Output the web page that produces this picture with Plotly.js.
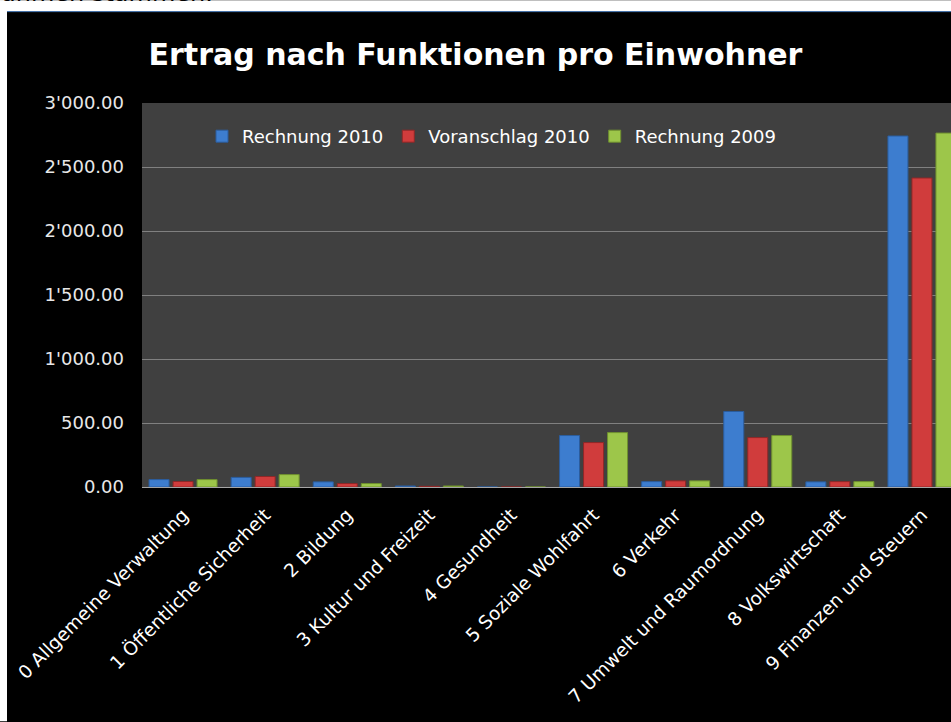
<!DOCTYPE html>
<html>
<head>
<meta charset="utf-8">
<script src="https://cdn.plot.ly/plotly-3.0.1.min.js"></script>
<style>
  html, body { margin: 0; padding: 0; background: #ffffff; overflow: hidden; }
  #chart { width: 951px; height: 722px; }
</style>
</head>
<body>
<div id="chart"></div>
<script>
// ---- Data ----
const categories = [
  "0 Allgemeine Verwaltung",
  "1 Öffentliche Sicherheit",
  "2 Bildung",
  "3 Kultur und Freizeit",
  "4 Gesundheit",
  "5 Soziale Wohlfahrt",
  "6 Verkehr",
  "7 Umwelt und Raumordnung",
  "8 Volkswirtschaft",
  "9 Finanzen und Steuern"
];
const seriesNames = ["Rechnung 2010", "Voranschlag 2010", "Rechnung 2009"];
const rechnung2010   = [58, 75, 40, 8, 0, 402, 42, 590, 40, 2742];
const voranschlag2010 = [43, 82, 27, 5, 0, 347, 48, 386, 42, 2414];
const rechnung2009   = [58, 97, 27, 8, 0, 425, 48, 402, 42, 2765];
const yTicks = [0, 500, 1000, 1500, 2000, 2500, 3000];

// ---- Layout helpers (pixel -> paper) ----
const W = 951, H = 722;
const mL = 142, mR = 0, mT = 103, mB = 234.5;
const pw = W - mL - mR, ph = H - mT - mB;
const px = x => (x - mL) / pw;
const py = y => 1 - (y - mT) / ph;

const font = "DejaVu Sans, Verdana, sans-serif";
const colors = ["#3d7dcf", "#d03c3c", "#9dc64a"];
const edges  = ["#2b5d9e", "#8f2727", "#6f902f"];
const values = [rechnung2010, voranschlag2010, rechnung2009];

const traces = seriesNames.map((n, i) => ({
  type: "bar",
  name: n,
  x: categories,
  y: values[i],
  marker: { color: colors[i], line: { color: edges[i], width: 1 } },
  hoverinfo: "skip"
}));

const layout = {
  width: W, height: H,
  margin: { l: mL, r: mR, t: mT, b: mB, pad: 0 },
  paper_bgcolor: "#000000",
  plot_bgcolor: "#404040",
  separators: ".'",
  font: { family: font, color: "#ffffff", size: 18 },
  title: {
    text: "Ertrag nach Funktionen pro Einwohner",
    font: { family: font, size: 30, color: "#ffffff", weight: "bold" },
    xref: "container", x: 0.5, xanchor: "center",
    yref: "container", y: 1 - 54.5 / H, yanchor: "middle"
  },
  barmode: "group",
  bargap: 0.123,
  bargroupgap: 0.167,
  showlegend: true,
  legend: {
    orientation: "h",
    x: px(202), xanchor: "left",
    y: py(118), yanchor: "top",
    bgcolor: "rgba(0,0,0,0)",
    font: { family: font, size: 18, color: "#ffffff" }
  },
  xaxis: {
    type: "category",
    range: [-0.5, -0.5 + pw / 82.1],
    tickangle: -45,
    tickfont: { family: font, size: 18.5, color: "#ffffff" },
    showgrid: false,
    showline: true, linecolor: "#a6a6a6", linewidth: 1,
    ticks: "", automargin: false,
    ticklabelstandoff: 9
  },
  yaxis: {
    range: [0, 3000],
    tickvals: yTicks,
    tickformat: ",.2f",
    tickfont: { family: font, size: 18, color: "#e8e8e8" },
    showgrid: true, gridcolor: "#808080", gridwidth: 1,
    zeroline: false,
    ticks: "", automargin: false,
    ticklabelstandoff: 17
  },
  shapes: [
    // white document background around chart frame
    { type: "rect", xref: "paper", yref: "paper", layer: "below",
      x0: px(0), x1: px(W), y0: py(0), y1: py(11), line: { width: 0 }, fillcolor: "#ffffff" },
    { type: "rect", xref: "paper", yref: "paper", layer: "below",
      x0: px(0), x1: px(7), y0: py(0), y1: py(H), line: { width: 0 }, fillcolor: "#ffffff" },
    // thin blue frame line at top of chart object
    { type: "line", xref: "paper", yref: "paper", layer: "above",
      x0: px(7), x1: px(W), y0: py(11.5), y1: py(11.5), line: { color: "#4f81bd", width: 1 } }
  ],
  annotations: [
    { text: "ahmen stammen.", showarrow: false,
      xref: "paper", yref: "paper", x: px(-1), xanchor: "left",
      y: py(9), yanchor: "bottom",
      font: { family: font, size: 24, color: "#000000" } }
  ]
};

Plotly.newPlot("chart", traces, layout, { displayModeBar: false, staticPlot: true });
</script>
</body>
</html>
